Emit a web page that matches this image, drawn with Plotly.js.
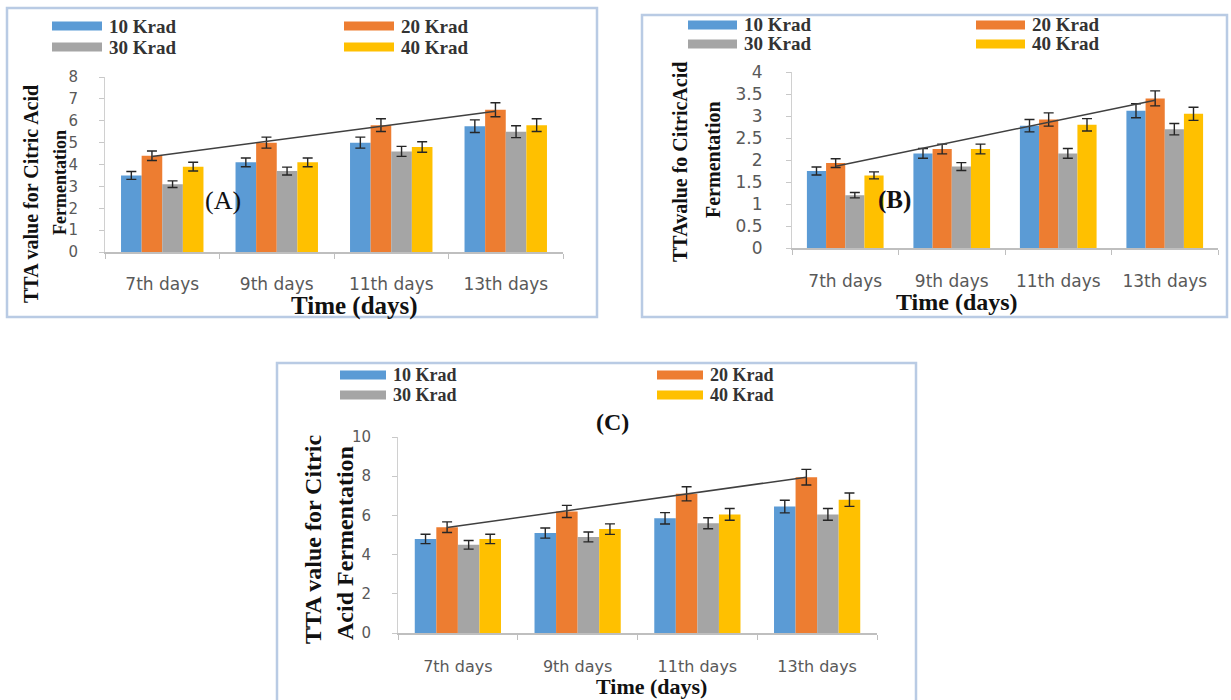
<!DOCTYPE html>
<html>
<head>
<meta charset="utf-8">
<script src="https://cdn.plot.ly/plotly-3.0.1.min.js"></script>
<style>html,body{margin:0;padding:0;background:#fff;}#chart{width:1231px;height:700px;}</style>
</head>
<body>
<div id="chart"></div>
<script>
// ---------------- DATA ----------------
const categories = ['7th days', '9th days', '11th days', '13th days'];
const seriesNames = ['10 Krad', '20 Krad', '30 Krad', '40 Krad'];

// Panel (A)
const a10 = [3.5, 4.1, 5.0, 5.75];
const a20 = [4.4, 5.0, 5.8, 6.5];
const a30 = [3.1, 3.7, 4.6, 5.5];
const a40 = [3.9, 4.1, 4.8, 5.8];
const errA10 = [0.18, 0.2, 0.25, 0.29];
const errA20 = [0.22, 0.25, 0.29, 0.32];
const errA30 = [0.15, 0.18, 0.23, 0.27];
const errA40 = [0.2, 0.2, 0.24, 0.29];
const trendA = [4.37, 6.43];

// Panel (B)
const b10 = [1.75, 2.15, 2.78, 3.12];
const b20 = [1.93, 2.25, 2.92, 3.4];
const b30 = [1.2, 1.85, 2.15, 2.7];
const b40 = [1.65, 2.25, 2.8, 3.05];
const errB10 = [0.09, 0.11, 0.14, 0.16];
const errB20 = [0.1, 0.11, 0.15, 0.17];
const errB30 = [0.06, 0.09, 0.11, 0.13];
const errB40 = [0.08, 0.11, 0.14, 0.15];
const trendB = [1.86, 3.36];

// Panel (C)
const c10 = [4.8, 5.1, 5.85, 6.45];
const c20 = [5.4, 6.2, 7.1, 7.95];
const c30 = [4.5, 4.9, 5.6, 6.05];
const c40 = [4.8, 5.3, 6.05, 6.8];
const errC10 = [0.24, 0.26, 0.29, 0.32];
const errC20 = [0.27, 0.31, 0.36, 0.4];
const errC30 = [0.22, 0.25, 0.28, 0.3];
const errC40 = [0.24, 0.27, 0.3, 0.34];
const trendC = [5.38, 7.95];

// ---------------- STYLE / LAYOUT ----------------
const colors = ['#5B9BD5', '#ED7D31', '#A5A5A5', '#FFC000'];
const W = 1231, H = 700;
const BARGAP = 0.28;
const px = x => x / W;
const py = y => 1 - y / H;
const serif = 'Liberation Serif, Times New Roman, serif';
const sans = 'DejaVu Sans, Arial, sans-serif';

const panels = [
  { id: '', vals: [a10, a20, a30, a40], errs: [errA10, errA20, errA30, errA40], trend: trendA,
    plot: { x0: 105, x1: 563, y0: 252, y1: 77 }, range: [0, 8], dtick: 1,
    ytick: 15, xtick: 17, xstand: 16, ystand: 18 },
  { id: '2', vals: [b10, b20, b30, b40], errs: [errB10, errB20, errB30, errB40], trend: trendB,
    plot: { x0: 792, x1: 1218, y0: 248, y1: 72 }, range: [0, 4], dtick: 0.5,
    ytick: 17, xtick: 17, xstand: 17, ystand: 20 },
  { id: '3', vals: [c10, c20, c30, c40], errs: [errC10, errC20, errC30, errC40], trend: trendC,
    plot: { x0: 398, x1: 877, y0: 633, y1: 437 }, range: [0, 10], dtick: 2,
    ytick: 15, xtick: 16, xstand: 18, ystand: 18 }
];

const idx = categories.map((c, i) => i);
const barW = (1 - BARGAP) / seriesNames.length;
const orangeOffset = -(1 - BARGAP) / 2 + barW * 1.5;

const traces = [];
const layout = {
  width: W, height: H,
  margin: { l: 0, r: 0, t: 0, b: 0 },
  paper_bgcolor: '#ffffff', plot_bgcolor: '#ffffff',
  barmode: 'group', bargap: BARGAP, bargroupgap: 0,
  showlegend: false,
  shapes: [], annotations: []
};

panels.forEach(p => {
  const xa = 'x' + p.id, ya = 'y' + p.id;
  p.vals.forEach((v, s) => {
    traces.push({
      type: 'bar', x: idx, y: v, name: seriesNames[s], xaxis: xa, yaxis: ya,
      marker: { color: colors[s], line: { width: 0 } },
      error_y: { type: 'data', array: p.errs[s], visible: true, color: '#262626', thickness: 1.4, width: 5 },
      hoverinfo: 'x+y+name'
    });
  });
  traces.push({
    type: 'scatter', mode: 'lines', xaxis: xa, yaxis: ya,
    x: [idx[0] + orangeOffset, idx[idx.length - 1] + orangeOffset], y: p.trend,
    line: { color: '#404040', width: 1.5 }, hoverinfo: 'skip', name: 'trend'
  });
  layout['xaxis' + p.id] = {
    domain: [px(p.plot.x0), px(p.plot.x1)], anchor: ya, range: [-0.5, 3.5],
    tickmode: 'array', tickvals: idx, ticktext: categories, ticks: '',
    minor: { tickmode: 'array', tickvals: [-0.5, 0.5, 1.5, 2.5, 3.5], ticks: 'outside', ticklen: 5, tickcolor: '#bfbfbf', showgrid: false },
    showline: true, linecolor: '#bfbfbf', linewidth: 1.5, showgrid: false, zeroline: false,
    tickfont: { family: sans, size: p.xtick, color: '#595959' }, ticklabelstandoff: p.xstand,
    fixedrange: true
  };
  layout['yaxis' + p.id] = {
    domain: [py(p.plot.y0), py(p.plot.y1)], anchor: xa, range: p.range, dtick: p.dtick,
    ticks: 'outside', ticklen: 5, tickcolor: '#c8c8c8', showline: true, linecolor: '#d0d0d0', linewidth: 1,
    showgrid: false, zeroline: false,
    tickfont: { family: sans, size: p.ytick, color: '#595959' }, ticklabelstandoff: p.ystand,
    fixedrange: true
  };
});

// Panel frames
[[7, 8, 597, 317], [642, 15, 1227, 317], [277, 363, 916, 702]].forEach(r => {
  layout.shapes.push({ type: 'rect', xref: 'paper', yref: 'paper', x0: px(r[0]), x1: px(r[2]), y0: py(r[3]), y1: py(r[1]),
    line: { color: '#b9cbe4', width: 2.5 }, fillcolor: 'rgba(0,0,0,0)', layer: 'below' });
});

// Legends (two columns x two rows per panel)
const legendPos = [
  { col: [52, 344], row: [26, 47], sw: 50, gap: 5, size: 19 },
  { col: [688, 976], row: [25, 44], sw: 49, gap: 5, size: 19 },
  { col: [340, 657], row: [375, 395], sw: 46, gap: 5, size: 18 }
];
legendPos.forEach(L => {
  seriesNames.forEach((name, s) => {
    const cx = L.col[s % 2], cy = L.row[Math.floor(s / 2)];
    layout.shapes.push({ type: 'rect', xref: 'paper', yref: 'paper', x0: px(cx), x1: px(cx + L.sw),
      y0: py(cy + 4.5), y1: py(cy - 4.5), fillcolor: colors[s], line: { width: 0 } });
    layout.annotations.push({ xref: 'paper', yref: 'paper', x: px(cx + L.sw + L.gap), y: py(cy), xanchor: 'left', yanchor: 'middle',
      text: '<b>' + name + '</b>', showarrow: false, font: { family: serif, size: L.size, color: '#333333' } });
  });
});

function ann(text, x, y, size, angle, bold) {
  layout.annotations.push({ xref: 'paper', yref: 'paper', x: px(x), y: py(y), xanchor: 'center', yanchor: 'middle',
    text: bold ? '<b>' + text + '</b>' : text, showarrow: false, textangle: angle || 0,
    font: { family: serif, size: size, color: '#111111' } });
}
// Panel A texts
ann('TTA value for Citric Acid', 31, 194, 20, -90, true);
ann('Fermentation', 60, 183, 18, -90, true);
ann('Time (days)', 354, 306, 25, 0, true);
ann('(A)', 223, 200, 26, 0, false);
// Panel B texts
ann('TTAvalue fo CitricAcid', 680, 162, 20, -90, true);
ann('Fermentation', 713, 160, 20, -90, true);
ann('Time (days)', 957, 302, 24, 0, true);
ann('(B)', 894, 200, 25, 0, true);
// Panel C texts
ann('TTA value for Citric', 313, 540, 24, -90, true);
ann('Acid Fermentation', 345, 543, 24, -90, true);
ann('Time (days)', 651, 686, 22, 0, true);
ann('(C)', 612, 422, 24, 0, true);

Plotly.newPlot('chart', traces, layout, { displayModeBar: false, staticPlot: true });
</script>
</body>
</html>
